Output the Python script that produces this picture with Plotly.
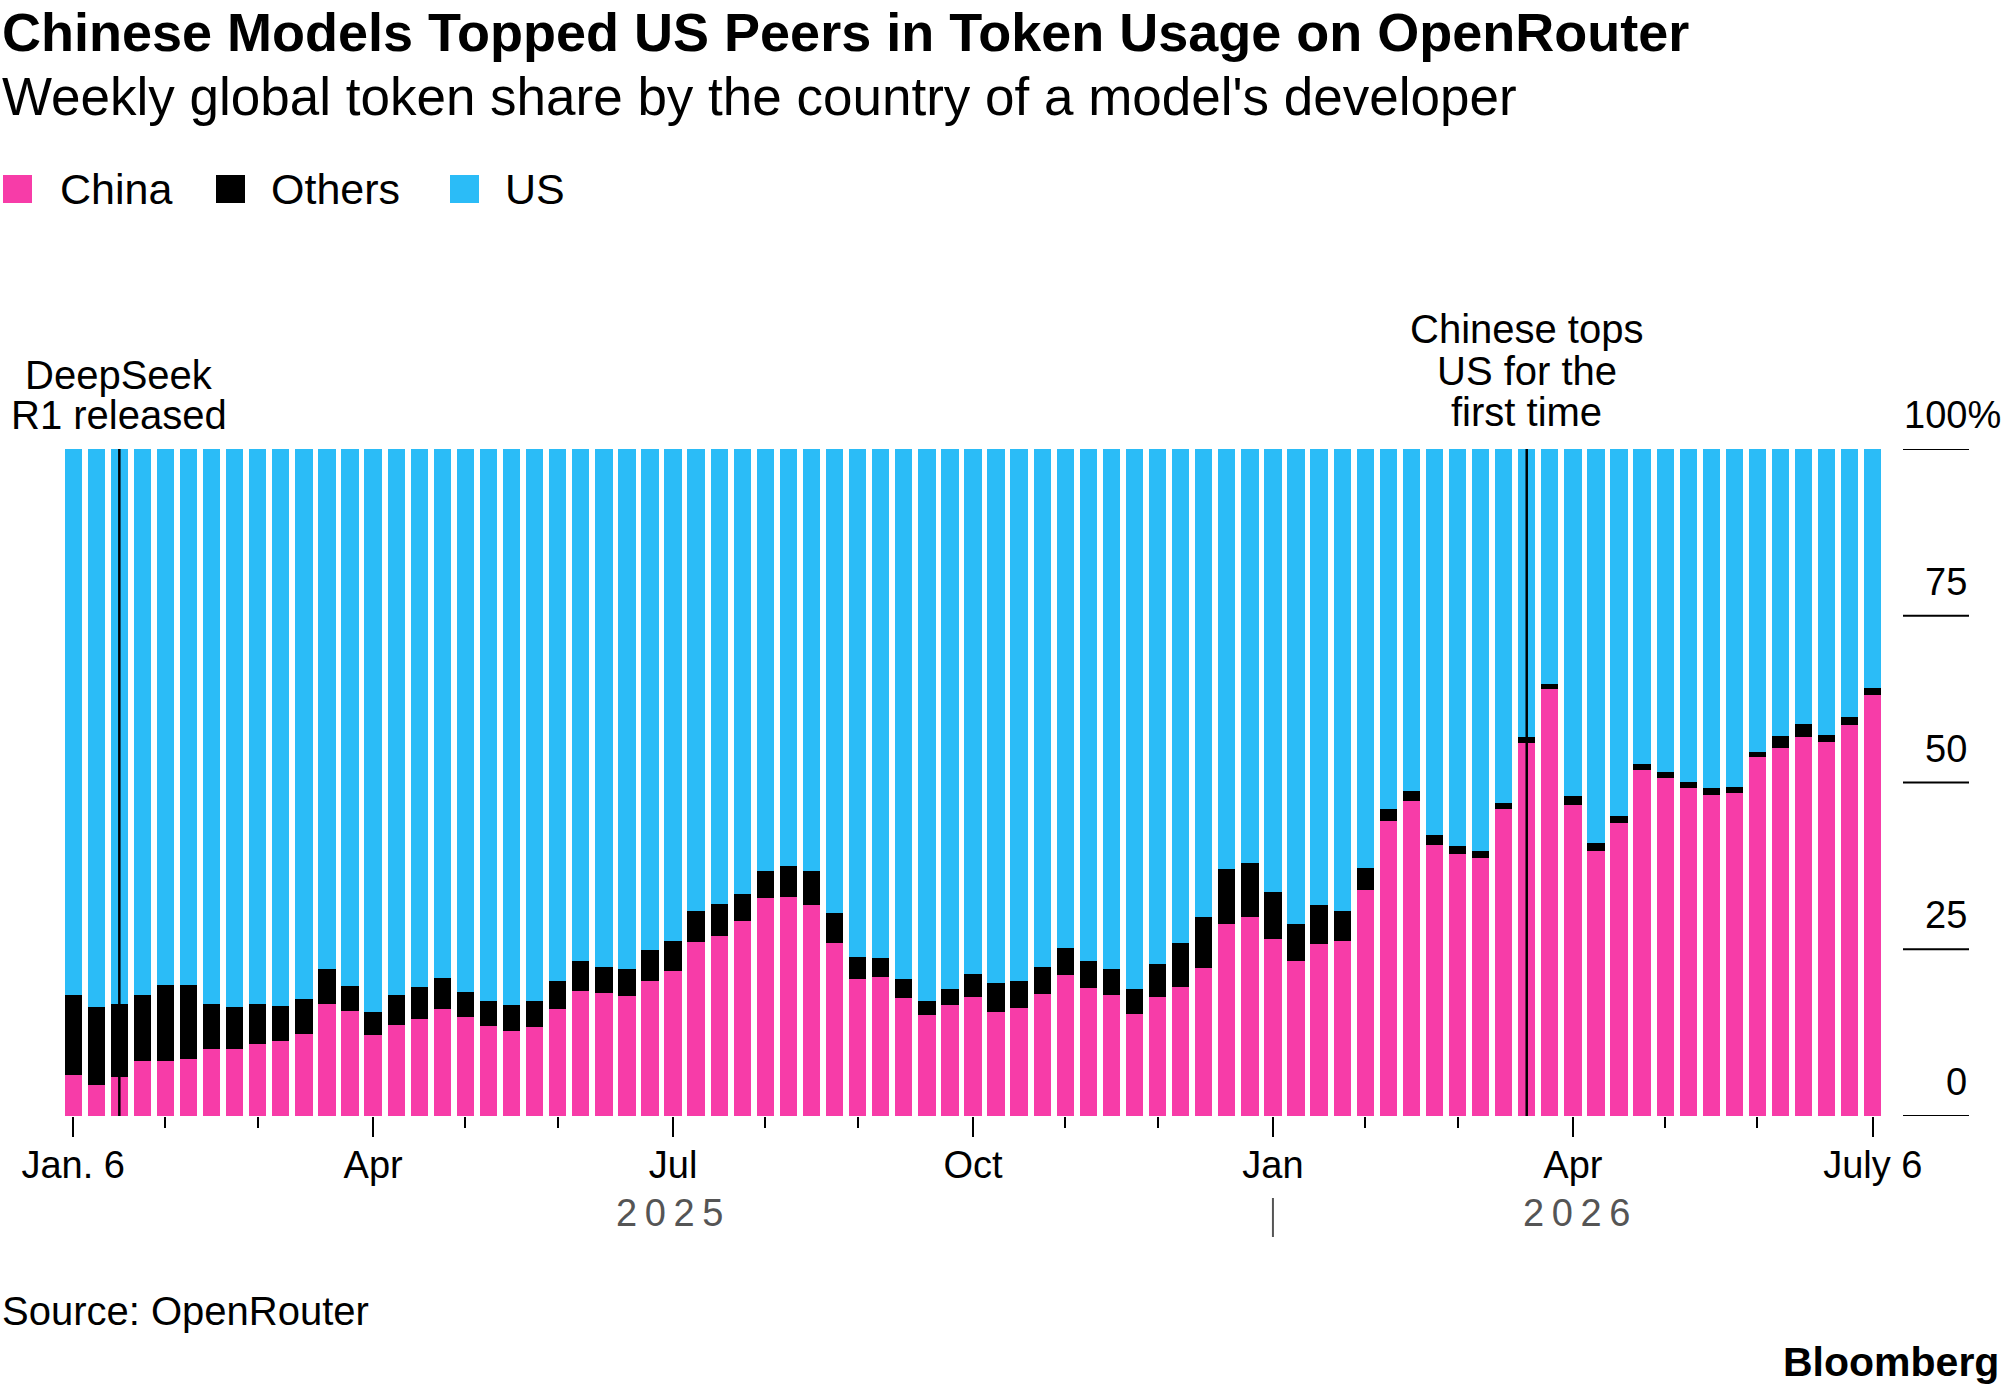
import pandas as pd
import plotly.graph_objects as go

# ---------------- data ----------------
weeks = [d.strftime("%Y-%m-%d") for d in pd.date_range("2025-01-06", periods=79, freq="7D")]

china = [6.1, 4.6, 5.9, 8.2, 8.3, 8.6, 10.0, 10.0, 10.8, 11.3, 12.3,
         16.8, 15.7, 12.2, 13.7, 14.6, 16.1, 14.8, 13.5, 12.8, 13.4,
         16.1, 18.8, 18.5, 18.0, 20.3, 21.8, 26.1, 27.0, 29.3, 32.7,
         32.8, 31.6, 25.9, 20.5, 20.9, 17.7, 15.1, 16.7, 17.8, 15.6,
         16.2, 18.3, 21.1, 19.2, 18.2, 15.3, 17.9, 19.4, 22.2, 28.8,
         29.8, 26.6, 23.3, 25.8, 26.3, 33.9, 44.3, 47.3, 40.7, 39.3,
         38.7, 46.0, 55.9, 64.0, 46.7, 39.8, 43.9, 51.9, 50.7, 49.2,
         48.1, 48.4, 53.8, 55.2, 56.8, 56.1, 58.6, 63.1]

others = [12.0, 11.7, 10.9, 10.0, 11.3, 11.1, 6.8, 6.4, 6.0, 5.2, 5.2,
          5.2, 3.8, 3.4, 4.5, 4.8, 4.6, 3.8, 3.8, 3.9, 3.8,
          4.1, 4.5, 3.9, 4.0, 4.6, 4.5, 4.6, 4.8, 4.0, 4.0,
          4.7, 5.1, 4.6, 3.3, 2.8, 2.8, 2.1, 2.4, 3.5, 4.4,
          4.1, 4.1, 4.1, 4.1, 3.8, 3.7, 4.9, 6.6, 7.6, 8.3,
          8.2, 7.0, 5.5, 5.9, 4.4, 3.3, 1.7, 1.4, 1.4, 1.2,
          1.0, 0.9, 0.9, 0.8, 1.3, 1.2, 1.1, 0.9, 0.9, 0.9,
          1.1, 1.0, 0.8, 1.8, 2.0, 1.0, 1.2, 1.0]

us = [81.9, 83.7, 83.2, 81.8, 80.4, 80.3, 83.2, 83.6, 83.2, 83.5, 82.5,
      78.0, 80.5, 84.4, 81.8, 80.6, 79.3, 81.4, 82.7, 83.3, 82.8,
      79.8, 76.7, 77.6, 78.0, 75.1, 73.7, 69.3, 68.2, 66.7, 63.3,
      62.5, 63.3, 69.5, 76.2, 76.3, 79.5, 82.8, 80.9, 78.7, 80.0,
      79.7, 77.6, 74.8, 76.7, 78.0, 81.0, 77.2, 74.0, 70.2, 62.9,
      62.0, 66.4, 71.2, 68.3, 69.3, 62.8, 54.0, 51.3, 57.9, 59.5,
      60.3, 53.1, 43.2, 35.2, 52.0, 59.0, 55.0, 47.2, 48.4, 49.9,
      50.8, 50.6, 45.4, 43.0, 41.2, 42.9, 40.2, 35.9]

series_names = ["China", "Others", "US"]
series_colors = ["#f73ca8", "#000000", "#2bbcf7"]

major_tick_dates = ["2025-01-06", "2025-04-07", "2025-07-07", "2025-10-06",
                    "2026-01-05", "2026-04-06", "2026-07-06"]
major_tick_labels = ["Jan. 6", "Apr", "Jul", "Oct", "Jan", "Apr", "July 6"]
minor_tick_dates = ["2025-02-03", "2025-03-03", "2025-05-05", "2025-06-02",
                    "2025-08-04", "2025-09-01", "2025-11-03", "2025-12-01",
                    "2026-02-02", "2026-03-02", "2026-05-04", "2026-06-01"]

year_labels = ["2025", "2026"]
year_label_dates = ["2025-07-06", "2026-04-07"]
year_separator_date = "2026-01-05"

y_ticks = [0, 25, 50, 75, 100]
y_tick_labels = ["0", "25", "50", "75", "100%"]

event_dates = ["2025-01-20", "2026-03-23"]
event_lines = [["DeepSeek", "R1 released"], ["Chinese tops", "US for the", "first time"]]

# ---------------- layout geometry ----------------
W, H = 2005, 1392
L, R, T, B = 60, 1886, 449, 1116
PW, PH = R - L, B - T
FONT = "Liberation Sans, Arial, Helvetica, sans-serif"


def px_x(x):
    return (x - L) / PW


def px_y(y):
    return (B - y) / PH


fig = go.Figure()
for name, vals, col in zip(series_names, [china, others, us], series_colors):
    fig.add_trace(go.Bar(x=weeks, y=vals, name=name, marker_color=col,
                         marker_line_width=0, width=5.25 * 86400000,
                         showlegend=False, hoverinfo="skip"))

shapes = []
annotations = []

# event lines
for d in event_dates:
    shapes.append(dict(type="line", xref="x", yref="y", x0=d, x1=d, y0=0, y1=100,
                       line=dict(color="black", width=2.5), layer="above"))

# event texts (one annotation per line for tight leading)
event_line_y = [[375, 415], [329, 371, 412]]
for d, lines, ys in zip(event_dates, event_lines, event_line_y):
    for t, yc in zip(lines, ys):
        annotations.append(dict(xref="x", yref="paper", x=d, y=px_y(yc), text=t,
                                showarrow=False, xanchor="center", yanchor="middle",
                                font=dict(family=FONT, size=40, color="#000")))

# right axis segments + labels
for v, lab in zip(y_ticks, y_tick_labels):
    shapes.append(dict(type="line", xref="paper", yref="y", x0=px_x(1903), x1=px_x(1969),
                       y0=v, y1=v, line=dict(color="black", width=2)))
    xr = 2003 if lab.endswith("%") else 1969
    annotations.append(dict(xref="paper", yref="y", x=px_x(xr), y=v, yshift=34,
                            text=lab, showarrow=False, xanchor="right", yanchor="middle",
                            font=dict(family=FONT, size=38, color="#000")))

# year labels + separator (letter-spaced with thin spaces)
for lab, d in zip(year_labels, year_label_dates):
    annotations.append(dict(xref="x", yref="paper", x=d, y=px_y(1213),
                            text="\u2009".join(lab),
                            showarrow=False, xanchor="center", yanchor="middle",
                            font=dict(family=FONT, size=38, color="#555555")))
shapes.append(dict(type="line", xref="x", yref="paper", x0=year_separator_date,
                   x1=year_separator_date, y0=px_y(1198), y1=px_y(1237),
                   line=dict(color="#555555", width=2)))

# title, subtitle
annotations.append(dict(xref="paper", yref="paper", x=px_x(0), y=px_y(32),
                        text="<b>Chinese Models Topped US Peers in Token Usage on OpenRouter</b>",
                        showarrow=False, xanchor="left", yanchor="middle",
                        font=dict(family=FONT, size=54, color="#000")))
annotations.append(dict(xref="paper", yref="paper", x=px_x(0), y=px_y(96),
                        text="Weekly global token share by the country of a model's developer",
                        showarrow=False, xanchor="left", yanchor="middle",
                        font=dict(family=FONT, size=53, color="#000")))

# legend (manual)
legend_sq_x = [3, 216, 450]
legend_txt_x = [58, 269, 503]
for name, col, sx, tx in zip(series_names, series_colors, legend_sq_x, legend_txt_x):
    shapes.append(dict(type="rect", xref="paper", yref="paper",
                       x0=px_x(sx), x1=px_x(sx + 29), y0=px_y(175), y1=px_y(203),
                       fillcolor=col, line=dict(width=0)))
    annotations.append(dict(xref="paper", yref="paper", x=px_x(tx), y=px_y(189), text=name,
                            showarrow=False, xanchor="left", yanchor="middle",
                            font=dict(family=FONT, size=43, color="#000")))

# source and logo
annotations.append(dict(xref="paper", yref="paper", x=px_x(0), y=px_y(1311),
                        text="Source: OpenRouter", showarrow=False, xanchor="left",
                        yanchor="middle", font=dict(family=FONT, size=40, color="#000")))
annotations.append(dict(xref="paper", yref="paper", x=px_x(2001), y=px_y(1362),
                        text="<b>Bloomberg</b>", showarrow=False, xanchor="right",
                        yanchor="middle", font=dict(family=FONT, size=41, color="#000")))

fig.update_layout(
    width=W, height=H,
    margin=dict(l=L, r=W - R, t=T, b=H - B, pad=0),
    paper_bgcolor="white", plot_bgcolor="white",
    barmode="stack", bargap=0,
    showlegend=False,
    shapes=shapes, annotations=annotations,
    font=dict(family=FONT, color="#000"),
    xaxis=dict(type="date", range=["2025-01-02", "2026-07-10"],
               tickmode="array", tickvals=major_tick_dates, ticktext=major_tick_labels,
               ticks="outside", ticklen=20, tickwidth=2, tickcolor="black",
               ticklabelstandoff=-5,
               tickfont=dict(family=FONT, size=38, color="#000"),
               showgrid=False, showline=False, zeroline=False,
               minor=dict(tickvals=minor_tick_dates, ticks="outside", ticklen=11,
                          tickwidth=2, tickcolor="black", showgrid=False)),
    yaxis=dict(range=[0, 100], visible=False, fixedrange=True),
)

fig.write_html("out.html", config={"displayModeBar": False, "staticPlot": True},
               post_script="document.body.style.margin='0';document.body.style.overflow='hidden';")
